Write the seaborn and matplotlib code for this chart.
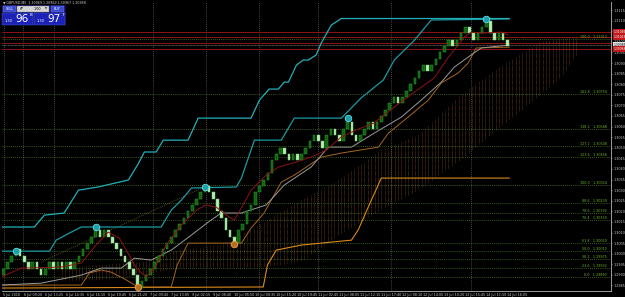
import numpy as np
import matplotlib
matplotlib.use("Agg")
import matplotlib.pyplot as plt
from matplotlib.patches import Rectangle
import matplotlib.transforms as mtransforms
import seaborn as sns

# ---------------- data ----------------
first_open = 1.2990
closes = [1.2993, 1.2996, 1.2999, 1.3002, 1.2999, 1.2996, 1.2993, 1.2996, 1.2993, 1.2990,
          1.2993, 1.2996, 1.2993, 1.2996, 1.2993, 1.2996, 1.2993, 1.2996, 1.2999, 1.3002,
          1.3005, 1.3008, 1.3011, 1.3008, 1.3011, 1.3008, 1.3005, 1.3002, 1.2999, 1.2996,
          1.2993, 1.2990, 1.2984, 1.2987, 1.2990, 1.2993, 1.2996, 1.2999, 1.3002, 1.3005,
          1.3008, 1.3011, 1.3014, 1.3017, 1.3020, 1.3023, 1.3026, 1.3029, 1.3032, 1.3029,
          1.3026, 1.3020, 1.3017, 1.3011, 1.3008, 1.3005, 1.3011, 1.3014, 1.3020, 1.3023,
          1.3029, 1.3032, 1.3035, 1.3038, 1.3044, 1.3047, 1.3050, 1.3047, 1.3044, 1.3047,
          1.3044, 1.3047, 1.3050, 1.3053, 1.3056, 1.3053, 1.3050, 1.3056, 1.3059, 1.3056,
          1.3053, 1.3059, 1.3062, 1.3056, 1.3053, 1.3056, 1.3059, 1.3062, 1.3059, 1.3062,
          1.3065, 1.3068, 1.3071, 1.3074, 1.3071, 1.3074, 1.3077, 1.3080, 1.3083, 1.3086,
          1.3089, 1.3086, 1.3089, 1.3092, 1.3095, 1.3098, 1.3101, 1.3098, 1.3101, 1.3104,
          1.3107, 1.3104, 1.3101, 1.3104, 1.3107, 1.3110, 1.3104, 1.3101, 1.3104, 1.3101,
          1.3098]

cyan_hi_x = [-0.5, 7.4, 9.8, 14.5, 17.9, 22.6, 29.8, 32.1, 33.6, 36.4, 38.1, 44.0, 46.4, 59.0,
             61.0, 63.3, 65.5, 66.9, 67.9, 69.8, 71.4, 72.6, 74.5, 75.7, 78.1, 80.5, 120.5]
cyan_hi_y = [1.30126, 1.30126, 1.30182, 1.30192, 1.30300, 1.30315, 1.30348, 1.30423, 1.30480,
             1.30480, 1.30536, 1.30536, 1.30640, 1.30640, 1.30725, 1.30777, 1.30777, 1.30810,
             1.30810, 1.30890, 1.30914, 1.30914, 1.30938, 1.30994, 1.31079, 1.31110, 1.31110]

cyan_lo_x = [-0.5, 11.0, 12.6, 15.7, 18.6, 37.6, 40.0, 42.4, 44.8, 55.5, 56.7, 59.8, 66.2,
             69.3, 80.5, 85.2, 90.5, 93.1, 97.9, 101.9, 120.5]
cyan_lo_y = [1.30012, 1.30012, 1.30064, 1.30097, 1.30126, 1.30126, 1.30206, 1.30253, 1.30310,
             1.30315, 1.30357, 1.30536, 1.30536, 1.30640, 1.30640, 1.30735, 1.30820, 1.30914,
             1.31008, 1.31103, 1.31108]

red_x = [-0.5, 4.3, 13.8, 18.6, 22.1, 25.0, 27.6, 29.3, 31.7, 34.0, 36.4, 38.8, 42.4, 46.0,
         48.3, 50.7, 53.1, 55.0, 57.1, 59.0, 62.6, 65.5, 69.8, 73.3, 76.9, 80.5, 84.0, 88.3,
         93.1, 97.9, 102.6, 106.0, 109.8, 111.4, 113.8, 118.6, 120.2]
red_y = [1.29890, 1.29932, 1.29937, 1.29956, 1.30041, 1.30102, 1.30074, 1.30017, 1.29932,
         1.29890, 1.29946, 1.30041, 1.30135, 1.30206, 1.30230, 1.30220, 1.30182, 1.30159,
         1.30230, 1.30300, 1.30371, 1.30409, 1.30433, 1.30456, 1.30489, 1.30551, 1.30584,
         1.30617, 1.30692, 1.30763, 1.30829, 1.30928, 1.31023, 1.31046, 1.31041, 1.31046,
         1.31032]

grey_x = [-0.5, 9.0, 18.6, 23.3, 28.1, 31.2, 35.2, 40.0, 44.8, 48.8, 51.9, 56.7, 62.6, 66.9,
          73.3, 77.4, 82.9, 88.3, 94.8, 99.5, 104.3, 107.4, 110.7, 113.8, 120.5]
grey_y = [1.29852, 1.29861, 1.29899, 1.29932, 1.29932, 1.29979, 1.29970, 1.30017, 1.30088,
          1.30149, 1.30192, 1.30192, 1.30230, 1.30324, 1.30409, 1.30503, 1.30503, 1.30569,
          1.30645, 1.30725, 1.30810, 1.30881, 1.30928, 1.30971, 1.30985]

orange_lo_x = [-0.5, 18.6, 20.5, 23.3, 25.7, 29.3, 32.1, 40.0, 41.4, 44.0, 56.7, 59.0, 62.1,
               66.2, 69.3, 75.7, 80.5, 89.3, 91.7, 96.4, 101.2, 104.3, 108.3, 110.7, 112.6, 120.5]
orange_lo_y = [1.29852, 1.29852, 1.29909, 1.29923, 1.29913, 1.29876, 1.29843, 1.29843, 1.29946,
               1.30050, 1.30050, 1.30121, 1.30192, 1.30338, 1.30371, 1.30456, 1.30475, 1.30503,
               1.30569, 1.30645, 1.30725, 1.30806, 1.30853, 1.30900, 1.30971, 1.30975]

orange_hi_x = [-0.5, 61.9, 62.9, 65.0, 71.0, 82.9, 84.5, 86.9, 90.0, 120.5]
orange_hi_y = [1.29838, 1.29843, 1.29946, 1.30017, 1.30041, 1.30064, 1.30112, 1.30220, 1.30357,
               1.30357]

cloud_x = [14, 23, 33, 42, 52, 61, 71, 80, 90, 99, 109, 119, 128, 133, 137]
cloud_top = [1.29932, 1.29946, 1.29961, 1.30017, 1.30041, 1.30135, 1.30253, 1.30348, 1.30489,
             1.30560, 1.30749, 1.30890, 1.30999, 1.31018, 1.31023]
cloud_bot = [1.29866, 1.29876, 1.29899, 1.29932, 1.29932, 1.29932, 1.29961, 1.30088, 1.30206,
             1.30300, 1.30442, 1.30607, 1.30749, 1.30834, 1.30947]

zz_hi_x = [3, 22, 48, 82, 115]
zz_hi_y = [1.30012, 1.30126, 1.30315, 1.30640, 1.31108]
zz_lo_x = [32, 55]
zz_lo_y = [1.29843, 1.30045]

trend_x = [9.0, 47.9]
trend_y = [1.29961, 1.30315]

fib_names = ["100.0", "161.8", "138.2", "127.2", "123.6", "100.0", "88.6", "78.6", "76.4",
             "61.8", "50.0", "38.2", "23.6", "0.0"]
fib_prices = [1.31013, 1.30754, 1.30588, 1.30508, 1.30456, 1.30324, 1.30239, 1.30192, 1.30159,
              1.30050, 1.30012, 1.29975, 1.29932, 1.29890]

red_levels = [1.31046, 1.31023, 1.30994, 1.30966]
bid_price = 1.30985

separators = [0.2, 4.8, 12.1, 35.7, 48.3, 61.0, 75.0, 92.4, 111.4]

price_ticks = [1.3115, 1.3110, 1.3105, 1.3100, 1.3095, 1.3090, 1.3085, 1.3080, 1.3075,
               1.3070, 1.3065, 1.3060, 1.3055, 1.3050, 1.3045, 1.3040, 1.3035, 1.3030,
               1.3025, 1.3020, 1.3015, 1.3010, 1.3005, 1.3000, 1.2995, 1.2990, 1.2985]

time_ticks = [0, 5, 10, 15, 20, 25, 30, 35, 40, 45, 50, 55, 60, 65, 70, 75, 80, 85, 90, 95,
              100, 105, 110, 115, 120]
time_labels = ["5 Jul 2018", "6 Jul 09:20", "6 Jul 13:25", "6 Jul 14:35", "6 Jul 16:10",
               "6 Jul 19:45", "6 Jul 21:20", "7 Jul 09:40", "7 Jul 13:05", "9 Jul 02:15",
               "9 Jul 08:40", "10 Jul 05:50", "10 Jul 09:35", "10 Jul 15:20", "10 Jul 19:45",
               "11 Jul 02:45", "11 Jul 08:05", "11 Jul 12:15", "11 Jul 17:40", "12 Jul 08:10",
               "12 Jul 14:05", "13 Jul 10:20", "13 Jul 15:45", "14 Jul 11:50", "14 Jul 16:05"]

# ---------------- style ----------------
sns.set_theme(style="dark", rc={"axes.facecolor": "black", "figure.facecolor": "black"})
plt.rcParams['font.family'] = ['DejaVu Sans']

W, H = 625, 297
fig = plt.figure(figsize=(W / 100, H / 100), dpi=100, facecolor='black')
L, R, T, B = 2, 611, 2, 291
ax = fig.add_axes([L / W, 1 - B / H, (R - L) / W, (B - T) / H])
ax.set_facecolor('black')
ax.set_xlim(-0.3, 144.7)
ax.set_ylim(1.29824, 1.31188)

# separators
for s in separators:
    ax.axvline(s, color='#5e5e5e', lw=0.6, ls=(0, (1, 1.5)), zorder=1)

# fib levels
for nm, p in zip(fib_names, fib_prices):
    ax.axhline(p, color='#4a7a18', lw=0.6, ls=(0, (1, 1.5)), zorder=1)
    ax.text(0.993, p, f"{nm}   {p:.5f}", transform=ax.get_yaxis_transform(), ha='right',
            va='bottom', fontsize=2.4, color='#6cb531', zorder=6)

# red levels
for p in red_levels:
    ax.axhline(p, color='#8c1414', lw=0.7, zorder=2)
ax.axhline(bid_price, color='#9a9a9a', lw=0.5, ls=(0, (1, 1)), zorder=2)

# cloud (dotted vertical hatching)
poly = ax.fill_between(cloud_x, cloud_bot, cloud_top, facecolor='none', edgecolor='none')
vx = np.arange(cloud_x[0], cloud_x[-1] + 0.01, 0.8)
vl = ax.vlines(vx, 1.2980, 1.3120, colors='#a0602a', lw=0.5, linestyles=(0, (0.6, 1.1)), zorder=2)
vl.set_clip_path(poly.get_paths()[0], ax.transData)

# trend (dotted)
sns.lineplot(x=trend_x, y=trend_y, ax=ax, color='#6e6e2a', lw=0.6, ls=(0, (1, 1.5)),
             estimator=None, sort=False, zorder=3)

# indicator lines
sns.lineplot(x=orange_hi_x, y=orange_hi_y, ax=ax, color='#d98a1a', lw=0.8, estimator=None, sort=False, zorder=3)
sns.lineplot(x=orange_lo_x, y=orange_lo_y, ax=ax, color='#a8661c', lw=0.7, estimator=None, sort=False, zorder=3)
sns.lineplot(x=grey_x, y=grey_y, ax=ax, color='#9a9a9a', lw=0.7, estimator=None, sort=False, zorder=3)
sns.lineplot(x=red_x, y=red_y, ax=ax, color='#8c1515', lw=0.7, estimator=None, sort=False, zorder=5)
sns.lineplot(x=cyan_lo_x, y=cyan_lo_y, ax=ax, color='#1c9aa2', lw=0.9, estimator=None, sort=False, zorder=3)
sns.lineplot(x=cyan_hi_x, y=cyan_hi_y, ax=ax, color='#22b0b8', lw=0.9, estimator=None, sort=False, zorder=3)

# candles
opens = [first_open] + closes[:-1]
idx = np.arange(len(closes))
o = np.array(opens)
c = np.array(closes)
bull = c >= o
ax.bar(idx[bull], (c - o)[bull], bottom=o[bull], width=0.62, color='#0e620e',
       edgecolor='#2fa02f', linewidth=0.35, zorder=4)
ax.bar(idx[~bull], (c - o)[~bull], bottom=o[~bull], width=0.62, color='#b6eeb0',
       edgecolor='#7ccc7c', linewidth=0.35, zorder=4)

# zigzag markers
sns.scatterplot(x=zz_hi_x, y=zz_hi_y, ax=ax, s=22, color='#1f9fa8', edgecolor='#5fe0e8',
                linewidth=0.6, zorder=7)
sns.scatterplot(x=zz_lo_x, y=zz_lo_y, ax=ax, s=22, color='#b87020', edgecolor='#f0a040',
                linewidth=0.6, zorder=7)

# axes
for sp in ['left', 'top']:
    ax.spines[sp].set_visible(False)
for sp in ['right', 'bottom']:
    ax.spines[sp].set_visible(True)
    ax.spines[sp].set_color('#9a9a9a')
    ax.spines[sp].set_linewidth(0.7)
ax.grid(False)
ax.yaxis.tick_right()
ax.set_yticks(price_ticks)
ax.set_yticklabels([f"{v:.4f}" for v in price_ticks])
ax.tick_params(axis='y', colors='#c8c8c8', labelsize=2.4, length=1, width=0.5, pad=0.6)
ax.set_xticks(time_ticks)
ax.set_xticklabels(time_labels, ha='left')
ax.tick_params(axis='x', colors='#c8c8c8', labelsize=2.4, length=1, width=0.5, pad=0.4)
ax.set_xlabel('')
ax.set_ylabel('')

# right-axis price boxes
btr = ax.get_yaxis_transform()
for p, fc, tc in [(1.31046, '#c01818', 'white'), (1.31023, '#c01818', 'white'),
                  (bid_price, '#e8e8e8', 'black'), (1.30966, '#c01818', 'white')]:
    ax.text(1.004, p, f"{p:.5f}", transform=btr, ha='left', va='center', fontsize=2.2,
            color=tc, bbox=dict(boxstyle='square,pad=0.25', fc=fc, ec='none'), clip_on=False, zorder=8)

# ---------------- top-left panel ----------------
def frect(x0, y0, x1, y1, **kw):
    fig.add_artist(Rectangle((x0 / W, 1 - y1 / H), (x1 - x0) / W, (y1 - y0) / H,
                             transform=fig.transFigure, **kw))

def ftext(x, y, s, **kw):
    fig.text(x / W, 1 - y / H, s, **kw)

ftext(3, 2.5, "▼ GBPUSD,M5  1.30969 1.30969 1.30967 1.30968", fontsize=2.3, color='#cfcfcf', va='center')
frect(2, 5, 66, 25, facecolor='#0c0c50', edgecolor='none')
frect(3, 6, 16, 12, facecolor='#3a4ad0', edgecolor='#7080f0', lw=0.3)
ftext(9.5, 9, "SELL", fontsize=2.4, color='white', ha='center', va='center')
frect(17, 6, 49.5, 12, facecolor='#d4d4d4', edgecolor='#909090', lw=0.3)
ftext(20, 9, "▲▼", fontsize=1.8, color='#303030', ha='left', va='center')
ftext(37, 9, "1.00", fontsize=2.4, color='black', ha='center', va='center')
ftext(46, 9, "▼", fontsize=1.8, color='#303030', ha='center', va='center')
frect(51, 6, 64, 12, facecolor='#3a4ad0', edgecolor='#7080f0', lw=0.3)
ftext(57.5, 9, "BUY", fontsize=2.4, color='white', ha='center', va='center')
frect(2, 13, 33, 25, facecolor='#1c22b6', edgecolor='#5060e0', lw=0.3)
frect(34, 13, 65, 25, facecolor='#1c22b6', edgecolor='#5060e0', lw=0.3)
ftext(4.5, 21, "1.30", fontsize=2.6, color='white', ha='left', va='center')
ftext(22.5, 19, "96", fontsize=7.5, color='white', ha='center', va='center')
ftext(31, 15.5, "8", fontsize=3.2, color='white', ha='center', va='center')
ftext(36.5, 21, "1.30", fontsize=2.6, color='white', ha='left', va='center')
ftext(54.5, 19, "97", fontsize=7.5, color='white', ha='center', va='center')
ftext(63, 15.5, "7", fontsize=3.2, color='white', ha='center', va='center')

fig.savefig("out.png", dpi=100, facecolor='black')
